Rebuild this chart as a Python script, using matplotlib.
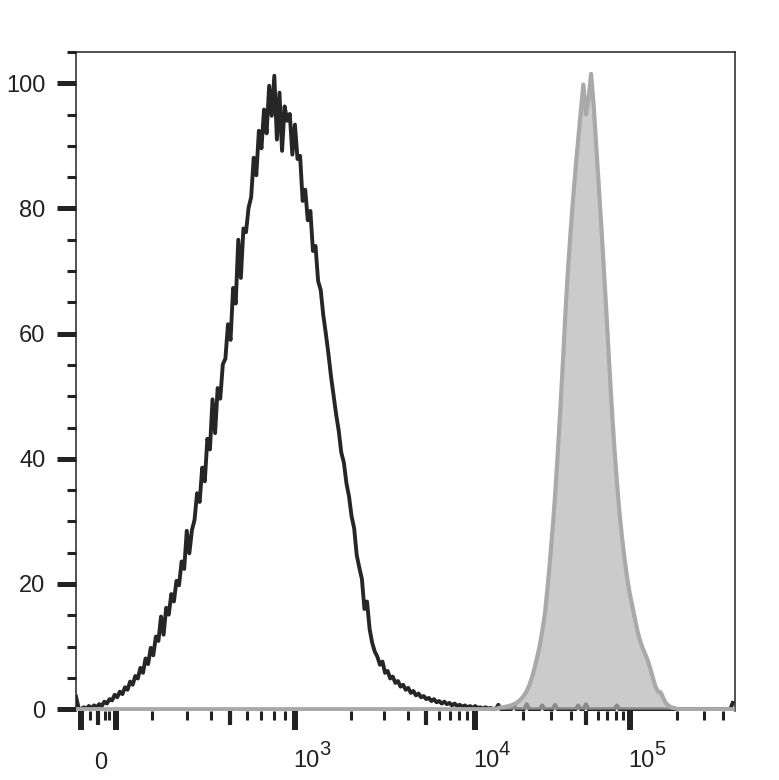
import matplotlib
matplotlib.use("Agg")
import matplotlib.pyplot as plt
import numpy as np

plt.rcParams["font.family"] = ["Liberation Sans", "DejaVu Sans"]

# histogram heights (% of max), one value per channel; 256 channels span the x axis
n_channels = 256

unstained_start = 0
unstained = [
    2.0, 0.2, 0.0, 0.3, 0.1, 0.5, 0.2, 0.6, 0.3, 0.8,
    0.5, 1.2, 0.9, 1.6, 1.4, 2.3, 1.9, 2.8, 2.4, 3.5,
    3.1, 4.4, 3.9, 5.3, 4.9, 6.6, 5.8, 8.1, 7.2, 9.8,
    8.6, 11.6, 10.9, 14.8, 11.9, 16.2, 15.1, 18.4, 17.2, 20.5,
    19.8, 23.6, 22.4, 28.5, 24.9, 28.6, 30.2, 34.5, 33.1, 38.6,
    36.4, 43.2, 41.5, 49.5, 44.1, 51.3, 49.6, 55.1, 56.0, 61.5,
    59.0, 67.3, 64.8, 75.0, 68.9, 76.8, 76.2, 80.1, 81.8, 88.1,
    85.3, 92.4, 89.6, 95.8, 92.0, 99.6, 94.8, 101.2, 91.0, 98.5,
    89.2, 96.3, 94.0, 95.1, 88.6, 93.4, 87.9, 88.4, 81.2, 83.0,
    78.1, 79.6, 73.2, 74.0, 68.4, 67.0, 63.0, 60.0, 56.8, 53.2,
    50.2, 47.1, 44.5, 41.0, 39.4, 36.1, 34.0, 30.8, 28.9, 24.6,
    22.6, 20.8, 16.0, 17.2, 12.8, 10.6, 9.2, 8.4, 7.1, 7.6,
    5.8, 6.1, 4.9, 5.2, 4.2, 4.5, 3.6, 3.9, 3.1, 3.4,
    2.6, 2.9, 2.2, 2.5, 1.9, 2.1, 1.6, 1.8, 1.3, 1.6,
    1.1, 1.3, 0.9, 1.2, 0.8, 1.0, 0.6, 0.9, 0.5, 0.7,
    0.4, 0.6, 0.3, 0.5, 0.2, 0.5, 0.2, 0.3, 0.1, 0.3,
    0.1, 0.2, 0.0,
]
# single events further right
unstained_tail_channels = [164, 170, 175, 181, 186, 195, 198, 210, 255]
unstained_tail_counts = [0.7, 0.6, 0.8, 0.6, 0.7, 0.6, 0.8, 0.6, 1.0]

stained_start = 160
stained = [
    0.0, 0.0, 0.1, 0.0, 0.2, 0.3, 0.3, 0.4, 0.5, 0.6,
    0.8, 1.0, 1.3, 1.7, 2.2, 2.9, 3.8, 5.0, 6.5, 8.2,
    10.0, 12.4, 15.0, 19.0, 23.5, 28.5, 34.0, 40.5, 47.5, 55.0,
    63.0, 70.0, 76.0, 81.5, 86.5, 91.0, 95.5, 99.8, 95.0, 97.5,
    101.5, 96.5, 90.0, 83.5, 77.0, 70.0, 63.0, 55.5, 48.5, 42.0,
    36.5, 31.5, 27.5, 24.0, 21.0, 18.5, 16.5, 14.5, 12.5, 11.0,
    9.8, 8.8, 7.8, 6.5, 5.0, 3.6, 2.8, 2.7, 1.8, 1.0,
    0.6, 0.3, 0.2, 0.1, 0.0,
]

# biexponential display: value -> channel anchors
zero_channel = 8.7
scale_values = [1e2, 2e2, 5e2, 1e3, 5e3, 1e4, 5e4, 1e5, 4e5]
scale_channels = [15.5, 29.5, 59.8, 84.9, 136.0, 154.8, 198.1, 215.1, 251.3]

big_ticks = [-100, 100, 1e3, 1e4, 1e5]
mid_ticks = [0, 500, 5e3, 5e4]
small_ticks = [-50, 40, 60] + [k * 10.0 ** e for e in (2, 3, 4) for k in (2, 3, 4, 6, 7, 8, 9)] + [2e5, 3e5, 4e5]
power_labels = [(1e3, "3"), (1e4, "4"), (1e5, "5")]


def to_channel(v):
    if v <= scale_values[0]:
        return zero_channel + v * (scale_channels[0] - zero_channel) / scale_values[0]
    return float(np.interp(np.log10(v), np.log10(scale_values), scale_channels))


channels = np.arange(n_channels)
black = np.zeros(n_channels)
black[unstained_start:unstained_start + len(unstained)] = unstained
black[unstained_tail_channels] = unstained_tail_counts
grey = np.zeros(n_channels)
grey[stained_start:stained_start + len(stained)] = stained

fig = plt.figure(figsize=(7.79, 7.80), dpi=100)
ax = fig.add_axes([0.0976, 0.0888, 0.8463, 0.8446])

ax.plot(channels, black, color="#262626", lw=2.8, zorder=2)
ax.fill_between(channels, grey, color="#b5b5b5", alpha=0.7, lw=0, zorder=3)
ax.plot(channels, grey, color="#a9a9a9", lw=3.0, zorder=4, solid_joinstyle="round")

ax.set_xlim(0, n_channels)
ax.set_ylim(-0.25, 105)

for side in ("left", "top", "right"):
    ax.spines[side].set_linewidth(1.1)
    ax.spines[side].set_color("#222222")
ax.spines["bottom"].set_visible(False)

# y axis
ax.set_yticks([0, 20, 40, 60, 80, 100])
ax.set_yticks(np.arange(5, 106, 5), minor=True)
ax.tick_params(axis="y", which="major", direction="out", length=13.7, width=3.6,
               color="#222222", labelsize=17, pad=8.3, labelcolor="#222222")
ax.tick_params(axis="y", which="minor", direction="out", length=6.5, width=2.2,
               color="#222222")

# x axis ticks, sized individually
tick_list = sorted([(v, "big") for v in big_ticks] + [(v, "mid") for v in mid_ticks]
                   + [(v, "small") for v in small_ticks])
ax.set_xticks([to_channel(v) for v, _ in tick_list])
ax.set_xticklabels([""] * len(tick_list))
ax.tick_params(axis="x", which="major", direction="out", color="#222222")
sizes = {"big": (14.0, 4.3), "mid": (10.0, 3.0), "small": (6.5, 2.2)}
for tick, (_, kind) in zip(ax.xaxis.get_major_ticks(), tick_list):
    length, width = sizes[kind]
    tick.tick1line.set_markersize(length)
    tick.tick1line.set_markeredgewidth(width)

trans = ax.get_xaxis_transform()
ax.annotate("0", xy=(to_channel(0), 0), xycoords=trans, xytext=(1.8, -29.5),
            textcoords="offset points", ha="center", va="top", fontsize=17,
            color="#222222", annotation_clip=False)
for v, exp in power_labels:
    ax.annotate("10", xy=(to_channel(v), 0), xycoords=trans, xytext=(-1.0, -28.3),
                textcoords="offset points", ha="left", va="top", fontsize=17,
                color="#222222", annotation_clip=False)
    ax.annotate(exp, xy=(to_channel(v), 0), xycoords=trans, xytext=(17.4, -20.8),
                textcoords="offset points", ha="left", va="top", fontsize=14.5,
                color="#222222", annotation_clip=False)

fig.savefig("out.png", dpi=100)
